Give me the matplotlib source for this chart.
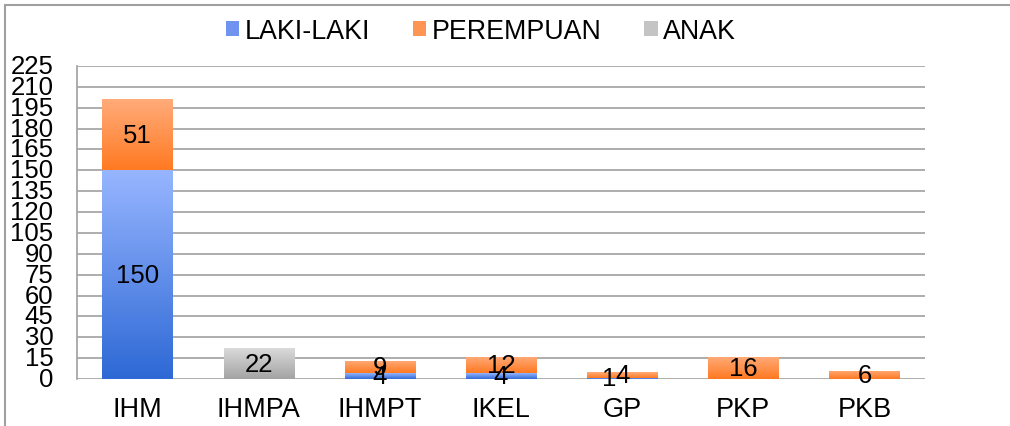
import numpy as np
import matplotlib
matplotlib.use('Agg')
import matplotlib.pyplot as plt
from matplotlib.colors import LinearSegmentedColormap
from matplotlib.patches import Patch, Rectangle

plt.rcParams['font.family'] = ['Liberation Sans', 'DejaVu Sans']

categories = ['IHM', 'IHMPA', 'IHMPT', 'IKEL', 'GP', 'PKP', 'PKB']
laki = [150, 0, 4, 4, 1, 0, 0]
perempuan = [51, 0, 9, 12, 4, 16, 6]
anak = [0, 22, 0, 0, 0, 0, 0]
series_names = ['LAKI-LAKI', 'PEREMPUAN', 'ANAK']

# (top colour, bottom colour) of each gradient
grads = [('#97b5ff', '#2e69d5'), ('#ffab7a', '#ff7a22'), ('#dadada', '#a3a3a3')]
legend_cols = ['#6f93ef', '#ff9552', '#c4c4c4']

fig = plt.figure(figsize=(10.1, 4.27), dpi=100)
ax = fig.add_axes([77 / 1010, 1 - 380 / 427, 848 / 1010, 313 / 427])

x = np.arange(len(categories))
width = 0.58
fs = 18.5
bottom = np.zeros(len(categories))

for vals, (ctop, cbot) in zip([laki, perempuan, anak], grads):
    vals = np.array(vals, dtype=float)
    cmap = LinearSegmentedColormap.from_list('g', [cbot, ctop])
    bars = ax.bar(x, vals, width, bottom=bottom, color='none', linewidth=0, zorder=3)
    for b, v, b0 in zip(bars, vals, bottom):
        if v <= 0:
            continue
        im = ax.imshow(np.linspace(0, 1, 100).reshape(-1, 1), cmap=cmap, origin='lower',
                       aspect='auto', extent=[b.get_x(), b.get_x() + width, b0, b0 + v],
                       zorder=3, interpolation='bicubic')
        im.set_clip_path(b)
    bottom += vals

# data labels
bottom = np.zeros(len(categories))
for vals in [laki, perempuan, anak]:
    for i, v in enumerate(vals):
        if v <= 0:
            continue
        dx = -13 if (categories[i] == 'GP' and vals is laki) else 0
        ax.annotate(str(v), (x[i], bottom[i] + v / 2), xytext=(dx, 0), textcoords='offset pixels',
                    ha='center', va='center', fontsize=fs, color='black', zorder=5)
    bottom += np.array(vals)

ax.set_xlim(-0.5, len(categories) - 0.5)
ax.set_ylim(0, 225)
ax.set_yticks(np.arange(0, 226, 15))
ax.set_xticks(x)
ax.set_xticklabels(categories)
ax.tick_params(axis='both', length=0, labelsize=fs)
ax.tick_params(axis='x', labelsize=19.5, pad=12)
ax.tick_params(axis='y', pad=17)
for t in ax.get_yticklabels():
    t.set_verticalalignment('center')
ax.yaxis.grid(True, color='#a0a0a0', linewidth=1.2, zorder=0)
ax.set_axisbelow(True)
for s in ['top', 'right', 'bottom']:
    ax.spines[s].set_visible(False)
ax.spines['left'].set_color('#a0a0a0')
ax.spines['left'].set_linewidth(1.2)

handles = [Patch(facecolor=c, edgecolor='none') for c in legend_cols]
fig.legend(handles, series_names, loc='center', bbox_to_anchor=(481 / 1010, 1 - 32 / 427),
           ncol=3, frameon=False, fontsize=19.3, handlelength=0.5, handleheight=0.5,
           handletextpad=0.2, columnspacing=1.6)

# outer chart frame
fig.patches.append(Rectangle((5 / 1010, -0.1), 1.2, 1 - 6 / 427 + 0.1, transform=fig.transFigure,
                             fill=False, edgecolor='#a0a0a0', linewidth=1.5))

fig.savefig('out.png', dpi=100)
